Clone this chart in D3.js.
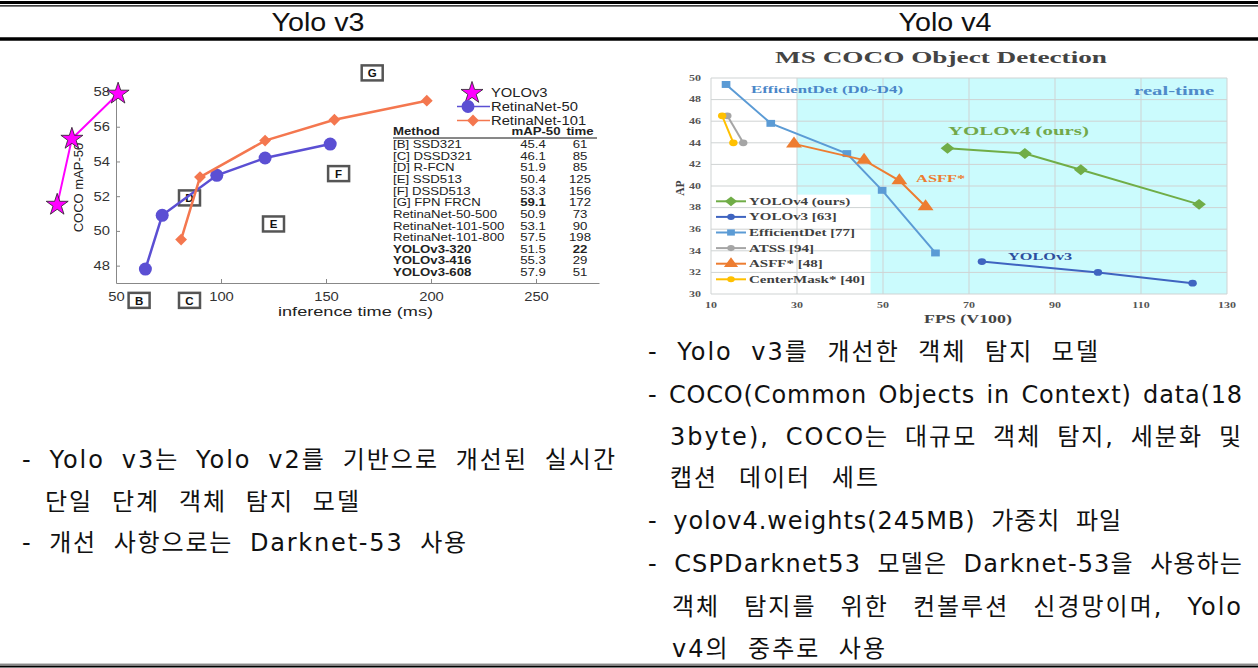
<!DOCTYPE html>
<html>
<head>
<meta charset="utf-8">
<script src="https://cdn.jsdelivr.net/npm/d3@7"></script>
<style>
body { margin: 0; background: #fff; }
svg { display: block; }
</style>
</head>
<body>
<div id="chart"></div>
<script>
var W = 1258, H = 668;

// ---- Yolo v3 chart (left)
var yolo3Time = [22, 29, 51];
var yolo3Map = [51.5, 55.3, 57.9];
var retina50Time = [64, 72, 98, 121, 152];
var retina50Map = [47.8, 50.9, 53.2, 54.2, 55.0];
var retina101Time = [81, 90, 121, 154, 198];
var retina101Map = [49.5, 53.1, 55.2, 56.4, 57.5];
var letterNames = ["B", "C", "D", "E", "F", "G"];
var letterTime = [61, 85, 85, 125, 156, 172];
var letterMap = [46.0, 46.0, 51.9, 50.4, 53.3, 59.1];
var v3XTicks = [50, 100, 150, 200, 250];
var v3YTicks = [48, 50, 52, 54, 56, 58];

var tableMethods = ["[B] SSD321", "[C] DSSD321", "[D] R-FCN", "[E] SSD513", "[F] DSSD513", "[G] FPN FRCN",
  "RetinaNet-50-500", "RetinaNet-101-500", "RetinaNet-101-800", "YOLOv3-320", "YOLOv3-416", "YOLOv3-608"];
var tableMap = ["45.4", "46.1", "51.9", "50.4", "53.3", "59.1", "50.9", "53.1", "57.5", "51.5", "55.3", "57.9"];
var tableTime = ["61", "85", "85", "125", "156", "172", "73", "90", "198", "22", "29", "51"];

// ---- Yolo v4 chart (right)
var yolo4Fps = [65, 83, 96, 123.5];
var yolo4Ap = [43.5, 43.0, 41.5, 38.3];
var yolov3Fps = [73, 100, 122];
var yolov3Ap = [33.0, 32.0, 31.0];
var effFps = [13.5, 23.9, 41.6, 49.8, 62.2];
var effAp = [49.4, 45.8, 43.0, 39.6, 33.8];
var atssFps = [13.8, 17.5];
var atssAp = [46.5, 44.0];
var asffFps = [29.3, 45.6, 53.8, 59.9];
var asffAp = [43.9, 42.4, 40.5, 38.1];
var centerFps = [12.6, 15.2];
var centerAp = [46.5, 44.0];
var v4Legend = ["YOLOv4 (ours)", "YOLOv3 [63]", "EfficientDet [77]", "ATSS [94]", "ASFF* [48]", "CenterMask* [40]"];
var v4XTicks = [10, 30, 50, 70, 90, 110, 130];
var v4YTicks = [30, 32, 34, 36, 38, 40, 42, 44, 46, 48, 50];

// ---- text blocks
var leftLines = ["- Yolo v3는 Yolo v2를 기반으로 개선된 실시간", "단일 단계 객체 탐지 모델", "- 개선 사항으로는 Darknet-53 사용"];
var rightLines = ["- Yolo v3를 개선한 객체 탐지 모델", "- COCO(Common Objects in Context) data(18",
  "3byte), COCO는 대규모 객체 탐지, 세분화 및", "캡션 데이터 세트", "- yolov4.weights(245MB) 가중치 파일",
  "- CSPDarknet53 모델은 Darknet-53을 사용하는", "객체 탐지를 위한 컨볼루션 신경망이며, Yolo", "v4의 중추로 사용"];

var sans = "Liberation Sans, Arial, sans-serif";
var serif = "Liberation Serif, Times New Roman, serif";
var kr = "DejaVu Sans, Noto Sans CJK KR, sans-serif";

var svg = d3.select("#chart").append("svg").attr("width", W).attr("height", H);

// stretched text helper (charts were pasted in wider than they were drawn)
function stext(g, str, x, y, sx) {
  return g.append("text")
    .attr("transform", "translate(" + x + "," + y + ") scale(" + sx + ",1)")
    .attr("dy", "0.35em")
    .text(str);
}

// ---- table rules and header
svg.append("line").attr("x1", 0).attr("x2", W).attr("y1", 2.5).attr("y2", 2.5).attr("stroke", "#000").attr("stroke-width", 3);
svg.append("line").attr("x1", 0).attr("x2", W).attr("y1", 5.8).attr("y2", 5.8).attr("stroke", "#000").attr("stroke-width", 1.3);
svg.append("line").attr("x1", 0).attr("x2", W).attr("y1", 39).attr("y2", 39).attr("stroke", "#000").attr("stroke-width", 3.4);
svg.append("line").attr("x1", 0).attr("x2", W).attr("y1", 664.2).attr("y2", 664.2).attr("stroke", "#555").attr("stroke-width", 1);
svg.append("line").attr("x1", 0).attr("x2", W).attr("y1", 666.4).attr("y2", 666.4).attr("stroke", "#000").attr("stroke-width", 2);

[["Yolo v3", 318], ["Yolo v4", 945]].forEach(function(h) {
  svg.append("text").attr("x", h[1]).attr("y", 31).attr("text-anchor", "middle")
    .attr("font-family", sans).attr("font-size", 25).attr("fill", "#111")
    .attr("textLength", 93).attr("lengthAdjust", "spacingAndGlyphs").text(h[0]);
});

// ================= Yolo v3 chart =================
var g3 = svg.append("g");
var x3 = d3.scaleLinear().domain([50, 280]).range([116, 599]);
var y3 = d3.scaleLinear().domain([47, 58]).range([283, 92]);
var sx3 = 1.23;

var xAxis3 = g3.append("g").attr("transform", "translate(0," + y3(47) + ")")
  .call(d3.axisBottom(x3).tickValues(v3XTicks).tickSizeInner(-4).tickSizeOuter(0).tickPadding(9));
var yAxis3 = g3.append("g").attr("transform", "translate(" + x3(50) + ",0)")
  .call(d3.axisLeft(y3).tickValues(v3YTicks).tickSizeInner(-4).tickSizeOuter(0).tickPadding(5));
[xAxis3, yAxis3].forEach(function(a) {
  a.select(".domain").attr("stroke", "#888");
  a.selectAll(".tick line").attr("stroke", "#888");
  a.selectAll(".tick text").attr("font-family", sans).attr("font-size", 12).attr("fill", "#333");
});
xAxis3.selectAll(".tick text").attr("transform", "scale(" + sx3 + ",1)");
yAxis3.selectAll(".tick text").attr("transform", "scale(" + sx3 + ",1)");

g3.append("text").attr("transform", "translate(78," + y3(52.5) + ") rotate(-90)")
  .attr("text-anchor", "middle").attr("dy", "0.35em").attr("font-family", sans).attr("font-size", 13)
  .attr("fill", "#222").text("COCO mAP-50");
g3.append("text").attr("x", 278).attr("y", 316).attr("font-family", sans).attr("font-size", 13)
  .attr("fill", "#222").attr("textLength", 155).attr("lengthAdjust", "spacingAndGlyphs").text("inference time (ms)");

// boxed method letters
var boxes = g3.selectAll(".box").data(letterNames).join("g")
  .attr("transform", function(d, i) { return "translate(" + x3(letterTime[i]) + "," + y3(letterMap[i]) + ")"; });
boxes.append("rect").attr("x", -10.5).attr("y", -7.5).attr("width", 21).attr("height", 15)
  .attr("fill", "#fff").attr("stroke", "#555").attr("stroke-width", 2.5);
boxes.append("text").attr("text-anchor", "middle").attr("dy", "0.36em").attr("font-family", sans)
  .attr("font-weight", "bold").attr("font-size", 11.5).attr("fill", "#111").text(function(d) { return d; });

var line3 = function(xs, ys) {
  return d3.line().x(function(i) { return x3(xs[i]); }).y(function(i) { return y3(ys[i]); })(d3.range(xs.length));
};
var purple = "#5b4fd3", orange = "#f4774f", magenta = "#ff00ff";

g3.append("path").attr("d", line3(retina50Time, retina50Map)).attr("fill", "none").attr("stroke", purple).attr("stroke-width", 2.5);
g3.selectAll(".r50").data(d3.range(retina50Time.length)).join("circle")
  .attr("cx", function(i) { return x3(retina50Time[i]); }).attr("cy", function(i) { return y3(retina50Map[i]); })
  .attr("r", 6.5).attr("fill", purple);

g3.append("path").attr("d", line3(retina101Time, retina101Map)).attr("fill", "none").attr("stroke", orange).attr("stroke-width", 2.5);
g3.selectAll(".r101").data(d3.range(retina101Time.length)).join("path")
  .attr("transform", function(i) { return "translate(" + x3(retina101Time[i]) + "," + y3(retina101Map[i]) + ") rotate(45)"; })
  .attr("d", d3.symbol(d3.symbolSquare, 70)).attr("fill", orange);

g3.append("path").attr("d", line3(yolo3Time, yolo3Map)).attr("fill", "none").attr("stroke", magenta).attr("stroke-width", 2);
g3.selectAll(".star").data(d3.range(yolo3Time.length)).join("path")
  .attr("transform", function(i) { return "translate(" + x3(yolo3Time[i]) + "," + y3(yolo3Map[i]) + ")"; })
  .attr("d", d3.symbol(d3.symbolStar, 150)).attr("fill", magenta).attr("stroke", "#222").attr("stroke-width", 0.8);

// legend
var leg3 = g3.append("g");
leg3.append("path").attr("transform", "translate(472,93)").attr("d", d3.symbol(d3.symbolStar, 150))
  .attr("fill", magenta).attr("stroke", "#222").attr("stroke-width", 0.8);
leg3.append("line").attr("x1", 457).attr("x2", 490).attr("y1", 106.5).attr("y2", 106.5).attr("stroke", purple).attr("stroke-width", 1.5);
leg3.append("circle").attr("cx", 468).attr("cy", 106.5).attr("r", 6.5).attr("fill", purple);
leg3.append("line").attr("x1", 457).attr("x2", 490).attr("y1", 120.5).attr("y2", 120.5).attr("stroke", orange).attr("stroke-width", 1.5);
leg3.append("path").attr("transform", "translate(473,120.5) rotate(45)").attr("d", d3.symbol(d3.symbolSquare, 70)).attr("fill", orange);
[["YOLOv3", 93], ["RetinaNet-50", 106.5], ["RetinaNet-101", 120.5]].forEach(function(l) {
  stext(leg3, l[0], 491, l[1], sx3).attr("font-family", sans).attr("font-size", 12).attr("fill", "#222");
});

// method table
var tab = g3.append("g").attr("font-family", sans).attr("fill", "#222");
var rowY = d3.scaleLinear().domain([0, 11]).range([144, 272.3]);
stext(tab, "Method", 393, 131.5, 1.2).attr("font-size", 11).attr("font-weight", "bold");
stext(tab, "mAP-50", 536, 131.5, 1.2).attr("font-size", 11).attr("font-weight", "bold").attr("text-anchor", "middle");
stext(tab, "time", 580, 131.5, 1.2).attr("font-size", 11).attr("font-weight", "bold").attr("text-anchor", "middle");
tab.append("line").attr("x1", 393).attr("x2", 597).attr("y1", 138).attr("y2", 138).attr("stroke", "#111").attr("stroke-width", 1);
tableMethods.forEach(function(m, i) {
  var y = rowY(i);
  stext(tab, m, 393, y, 1.2).attr("font-size", 11).attr("font-weight", i >= 9 ? "bold" : "normal");
  stext(tab, tableMap[i], 533, y, 1.2).attr("font-size", 11).attr("text-anchor", "middle").attr("font-weight", i === 5 ? "bold" : "normal");
  stext(tab, tableTime[i], 580, y, 1.2).attr("font-size", 11).attr("text-anchor", "middle").attr("font-weight", i === 9 ? "bold" : "normal");
});

// ================= Yolo v4 chart =================
var g4 = svg.append("g");
var x4 = d3.scaleLinear().domain([10, 130]).range([711, 1227]);
var y4 = d3.scaleLinear().domain([30, 50]).range([294, 78]);
var sx4 = 1.5;

// real-time zone, minus the legend corner
g4.append("rect").attr("x", x4(30)).attr("y", y4(50)).attr("width", x4(130) - x4(30)).attr("height", y4(30) - y4(50)).attr("fill", "#cbfbfd");
g4.append("rect").attr("x", x4(10)).attr("y", y4(39.2)).attr("width", x4(47.1) - x4(10)).attr("height", y4(30) - y4(39.2)).attr("fill", "#fff");

g4.selectAll(".hg").data(v4YTicks).join("line")
  .attr("x1", x4(10)).attr("x2", x4(130)).attr("y1", function(d) { return y4(d); }).attr("y2", function(d) { return y4(d); })
  .attr("stroke", "#cfd3d3").attr("stroke-width", 1);
g4.selectAll(".vg").data(v4XTicks).join("line")
  .attr("y1", y4(30)).attr("y2", y4(50)).attr("x1", function(d) { return x4(d); }).attr("x2", function(d) { return x4(d); })
  .attr("stroke", "#cfd3d3").attr("stroke-width", 1);

g4.selectAll(".yl").data(v4YTicks).join("text")
  .attr("transform", function(d) { return "translate(" + (x4(10) - 10) + "," + y4(d) + ") scale(" + sx4 + ",1)"; })
  .attr("dy", "0.35em").attr("text-anchor", "end").attr("font-family", serif).attr("font-weight", "bold")
  .attr("font-size", 8).attr("fill", "#555").text(function(d) { return d; });
g4.selectAll(".xl").data(v4XTicks).join("text")
  .attr("transform", function(d) { return "translate(" + x4(d) + "," + 305 + ") scale(" + sx4 + ",1)"; })
  .attr("dy", "0.35em").attr("text-anchor", "middle").attr("font-family", serif).attr("font-weight", "bold")
  .attr("font-size", 8).attr("fill", "#555").text(function(d) { return d; });

g4.append("text").attr("x", 941).attr("y", 63).attr("text-anchor", "middle").attr("font-family", serif)
  .attr("font-weight", "bold").attr("font-size", 17.5).attr("fill", "#444")
  .attr("textLength", 332).attr("lengthAdjust", "spacingAndGlyphs").text("MS COCO Object Detection");
g4.append("text").attr("transform", "translate(680," + y4(39.8) + ") rotate(-90)").attr("text-anchor", "middle")
  .attr("dy", "0.35em").attr("font-family", serif).attr("font-weight", "bold").attr("font-size", 11.5).attr("fill", "#444").text("AP");
g4.append("text").attr("x", 968).attr("y", 323).attr("text-anchor", "middle").attr("font-family", serif)
  .attr("font-weight", "bold").attr("font-size", 11.5).attr("fill", "#444")
  .attr("textLength", 88).attr("lengthAdjust", "spacingAndGlyphs").text("FPS (V100)");

var series4 = [
  { name: v4Legend[0], xs: yolo4Fps, ys: yolo4Ap, color: "#70ad47", shape: "diamond" },
  { name: v4Legend[1], xs: yolov3Fps, ys: yolov3Ap, color: "#3f64c0", shape: "circle" },
  { name: v4Legend[2], xs: effFps, ys: effAp, color: "#5b9bd5", shape: "square" },
  { name: v4Legend[3], xs: atssFps, ys: atssAp, color: "#a5a5a5", shape: "circle" },
  { name: v4Legend[4], xs: asffFps, ys: asffAp, color: "#ed7d31", shape: "triangle" },
  { name: v4Legend[5], xs: centerFps, ys: centerAp, color: "#ffc000", shape: "circle" }
];
var shapes = { diamond: d3.symbolSquare, circle: d3.symbolCircle, square: d3.symbolSquare, triangle: d3.symbolTriangle };
var sizes = { diamond: 60, circle: 36, square: 48, triangle: 70 };

function marker(g, s, x, y, k) {
  var rot = s.shape === "diamond" ? " rotate(45)" : "";
  return g.append("path")
    .attr("transform", "translate(" + x + "," + y + ") scale(1.25,1)" + rot)
    .attr("d", d3.symbol(shapes[s.shape], sizes[s.shape] * k)).attr("fill", s.color);
}

// draw order: back to front
[3, 5, 2, 4, 1, 0].forEach(function(k) {
  var s = series4[k];
  g4.append("path")
    .attr("d", d3.line().x(function(i) { return x4(s.xs[i]); }).y(function(i) { return y4(s.ys[i]); })(d3.range(s.xs.length)))
    .attr("fill", "none").attr("stroke", s.color).attr("stroke-width", 2);
  s.xs.forEach(function(v, i) { marker(g4, s, x4(v), y4(s.ys[i]), 1); });
});

// in-plot annotations
var notes = [
  { t: "EfficientDet (D0~D4)", x: 19.3, y: 49.0, w: 152, fs: 11, c: "#4a86c8" },
  { t: "real-time", x: 108.4, y: 48.8, w: 80, fs: 12, c: "#4f8ac9" },
  { t: "YOLOv4 (ours)", x: 65.1, y: 45.1, w: 141, fs: 13, c: "#72a84a" },
  { t: "ASFF*", x: 57.7, y: 40.75, w: 49, fs: 11, c: "#ed7d31" },
  { t: "YOLOv3", x: 79.1, y: 33.5, w: 64, fs: 10, c: "#2e4e9e" }
];
notes.forEach(function(n) {
  g4.append("text").attr("x", x4(n.x)).attr("y", y4(n.y)).attr("dy", "0.35em").attr("font-family", serif)
    .attr("font-weight", "bold").attr("font-size", n.fs).attr("fill", n.c)
    .attr("textLength", n.w).attr("lengthAdjust", "spacingAndGlyphs").text(n.t);
});

// legend
var legY = d3.scaleLinear().domain([0, 5]).range([201.3, 279.3]);
series4.forEach(function(s, k) {
  var y = legY(k);
  g4.append("line").attr("x1", 716).attr("x2", 746).attr("y1", y).attr("y2", y).attr("stroke", s.color).attr("stroke-width", 2);
  marker(g4, s, 731, y, 0.8);
  stext(g4, s.name, 749, y, sx4).attr("font-family", serif).attr("font-weight", "bold").attr("font-size", 10).attr("fill", "#404040");
});

// ================= text blocks =================
// each line is spread to its width: some letter spacing, the rest between words
function justLine(str, x, y, width) {
  var words = str.split(" ");
  var g = svg.append("g").attr("font-family", kr).attr("font-size", 24).attr("fill", "#111");
  var nodes = words.map(function(w) {
    return g.append("text").attr("y", y).attr("dy", "0.35em").text(w);
  });
  var lens = nodes.map(function(n) { return n.node().getComputedTextLength(); });
  var chars = d3.sum(words, function(w) { return w.length; });
  var extra = width - d3.sum(lens);
  var ls = Math.max(0, Math.min(2, extra * 0.35 / chars));
  nodes.forEach(function(n) { n.attr("letter-spacing", ls); });
  lens = nodes.map(function(n) { return n.node().getComputedTextLength(); });
  var gap = (width - d3.sum(lens)) / Math.max(1, words.length - 1);
  var cx = x;
  nodes.forEach(function(n, i) { n.attr("x", cx); cx += lens[i] + gap; });
}
var leftPos = [[22, 460, 595], [45, 502, 316], [22, 543, 446]];
leftLines.forEach(function(t, i) { justLine(t, leftPos[i][0], leftPos[i][1], leftPos[i][2]); });
var rightPos = [[648, 352, 452], [648, 395, 595], [670, 437, 573], [670, 478, 210],
  [648, 521, 474], [648, 564, 595], [672, 607, 571], [672, 649, 215]];
rightLines.forEach(function(t, i) { justLine(t, rightPos[i][0], rightPos[i][1], rightPos[i][2]); });
</script>
</body>
</html>
